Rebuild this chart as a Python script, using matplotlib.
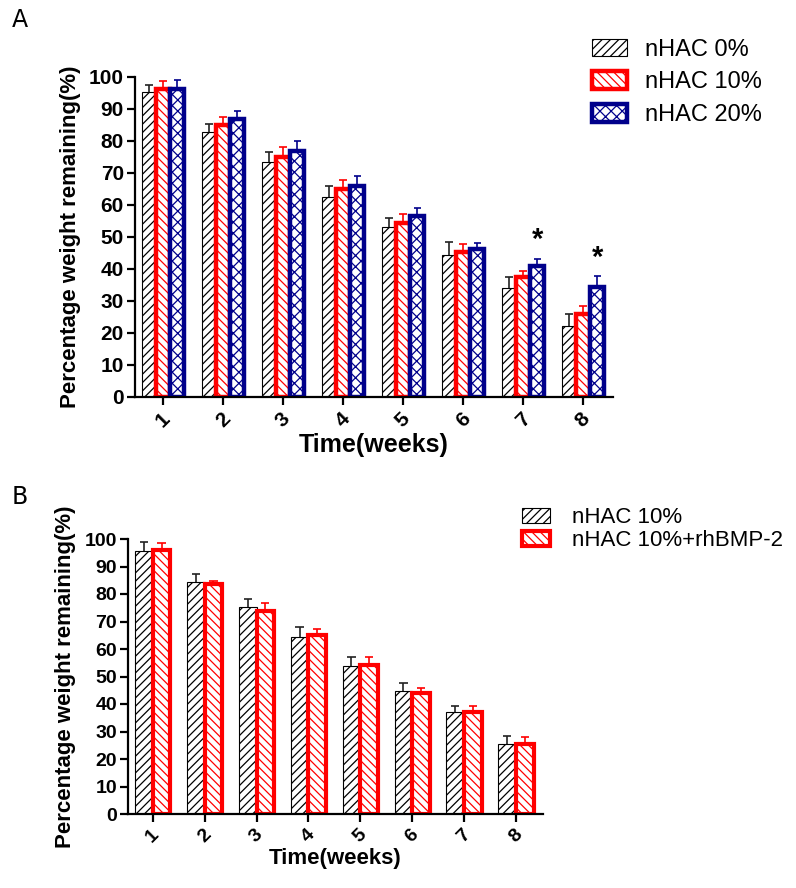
import numpy as np
import matplotlib
matplotlib.use("Agg")
import matplotlib.pyplot as plt

plt.rcParams["font.family"] = ["Liberation Sans", "DejaVu Sans"]
plt.rcParams["hatch.linewidth"] = 0.9

weeks = ["1", "2", "3", "4", "5", "6", "7", "8"]

# panel A: mean and upper SD, % weight remaining
a_labels = ["nHAC 0%", "nHAC 10%", "nHAC 20%"]
a_0 = [95.3, 82.7, 73.5, 62.6, 53.1, 44.4, 34.0, 22.2]
a_0_err = [2.2, 2.6, 3.1, 3.4, 2.8, 4.0, 3.5, 3.7]
a_10 = [96.2, 85.0, 75.0, 65.0, 54.3, 45.3, 37.5, 25.9]
a_10_err = [2.6, 2.4, 3.1, 2.7, 2.9, 2.5, 1.9, 2.5]
a_20 = [96.3, 86.8, 77.0, 66.0, 56.5, 46.2, 41.0, 34.4]
a_20_err = [2.7, 2.6, 3.0, 3.0, 2.5, 1.8, 2.1, 3.4]
a_star_weeks = [7, 8]
a_star_y = [49, 43.4]

# panel B
b_labels = ["nHAC 10%", "nHAC 10%+rhBMP-2"]
b_10 = [95.6, 84.4, 75.3, 64.4, 54.0, 44.7, 37.1, 25.5]
b_10_err = [3.3, 2.9, 2.9, 3.6, 3.0, 2.9, 2.2, 2.9]
b_bmp = [96.0, 83.6, 73.8, 65.1, 54.3, 44.0, 37.1, 25.5]
b_bmp_err = [2.5, 1.1, 2.9, 2.2, 2.7, 1.8, 2.2, 2.5]

RED = "#ff0000"
NAVY = "#00008b"


def upper_err(ax, x, y, e, color, cap, lw):
    y = np.asarray(y); e = np.asarray(e)
    ax.vlines(x, y, y + e, color=color, lw=lw, zorder=1, clip_on=False)
    ax.hlines(y + e, x - cap, x + cap, color=color, lw=lw, zorder=1, clip_on=False)


def style_axes(ax, xlim, tick_size, xt_size, xl_size):
    ax.set_xlim(*xlim)
    ax.set_ylim(0, 100)
    ax.set_yticks(np.arange(0, 101, 10))
    ax.set_xticks(np.arange(1, 9))
    ax.set_xticklabels(weeks, rotation=45, fontsize=xt_size, fontweight="semibold")
    for lab in ax.get_yticklabels():
        lab.set_fontsize(tick_size); lab.set_fontweight("bold")
    ax.spines[["top", "right"]].set_visible(False)
    ax.spines[["left", "bottom"]].set_linewidth(1.6)
    ax.tick_params(axis="y", length=6, width=1.6, pad=2)
    ax.tick_params(axis="x", length=6, width=1.6, pad=3)
    ax.set_xlabel("Time(weeks)", fontsize=xl_size, fontweight="bold", labelpad=1)
    ax.set_ylabel("Percentage weight remaining(%)", fontsize=16, fontweight="bold", labelpad=6)


fig = plt.figure(figsize=(7.96, 8.88), dpi=100)

# ---- panel A
ax1 = fig.add_axes([135 / 796, 1 - 397 / 888, 478 / 796, 320 / 888])
x = np.arange(1, 9)
w = 0.235
ax1.bar(x - w, a_0, w, color="white", edgecolor="black", lw=0.8, hatch="////",
        label=a_labels[0], zorder=2)
ax1.bar(x, a_10, w, color="white", edgecolor=RED, lw=3.2, hatch="\\\\\\\\",
        label=a_labels[1], zorder=2)
ax1.bar(x + w, a_20, w, color="white", edgecolor=NAVY, lw=3.2, hatch="xxx",
        label=a_labels[2], zorder=2)
upper_err(ax1, x - w, a_0, a_0_err, "#222222", 0.06, 1.2)
upper_err(ax1, x, a_10, a_10_err, RED, 0.06, 1.2)
upper_err(ax1, x + w, a_20, a_20_err, NAVY, 0.06, 1.2)
for wk, sy in zip(a_star_weeks, a_star_y):
    ax1.text(wk + w, sy, "*", ha="center", va="center", fontsize=21, fontweight="bold")
style_axes(ax1, (0.533, 8.5), 15, 15, 18)
ax1.legend(loc="upper left", bbox_to_anchor=(580 / 796, 1 - 27 / 888),
           bbox_transform=fig.transFigure, frameon=False, fontsize=17,
           borderpad=0, handlelength=1.5, handleheight=0.76, handletextpad=0.75,
           labelspacing=0.45)
fig.text(12 / 796, 1 - 20 / 888, "A", fontsize=17, va="center", ha="left",
         family=["Liberation Sans Narrow", "DejaVu Sans"])

# ---- panel B
ax2 = fig.add_axes([128 / 796, 1 - 814 / 888, 415 / 796, 275 / 888])
wb = 0.34
ax2.bar(x - wb / 2, b_10, wb, color="white", edgecolor="black", lw=0.8, hatch="////",
        label=b_labels[0], zorder=2)
ax2.bar(x + wb / 2, b_bmp, wb, color="white", edgecolor=RED, lw=3.0, hatch="\\\\\\\\",
        label=b_labels[1], zorder=2)
upper_err(ax2, x - wb / 2, b_10, b_10_err, "#222222", 0.08, 1.2)
upper_err(ax2, x + wb / 2, b_bmp, b_bmp_err, RED, 0.08, 1.2)
style_axes(ax2, (0.524, 8.52), 14, 14, 16)
ax2.legend(loc="upper left", bbox_to_anchor=(511 / 796, 1 - 496 / 888),
           bbox_transform=fig.transFigure, frameon=False, fontsize=16,
           borderpad=0, handlelength=1.25, handleheight=0.65, handletextpad=1.0,
           labelspacing=0.1)
fig.text(12 / 796, 1 - 497 / 888, "B", fontsize=17, va="center", ha="left",
         family=["Liberation Sans Narrow", "DejaVu Sans"])

fig.savefig("out.png", dpi=100)
